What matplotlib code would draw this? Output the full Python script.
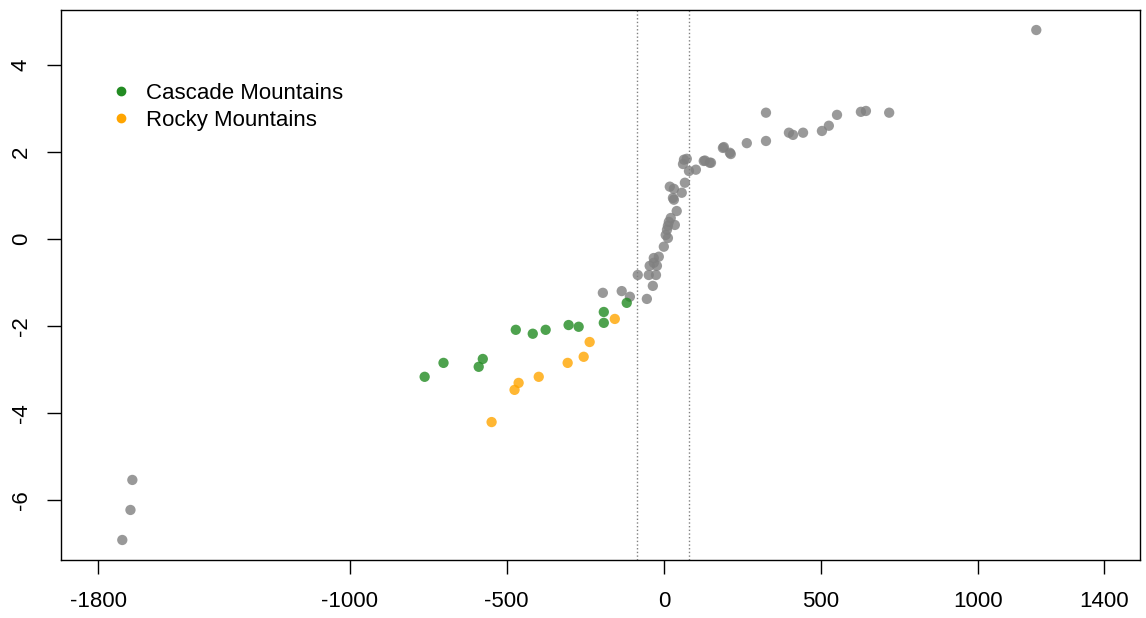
import numpy as np
import matplotlib.pyplot as plt
from matplotlib.lines import Line2D

plt.rcParams['font.family'] = ['Liberation Sans', 'DejaVu Sans']
plt.rcParams['axes.unicode_minus'] = False

# gray points (all others)
gray_x = [1185, -1723, -1697, -1691,
          325, 325, 717, 627, 643, 551, 525, 503, 443, 411, 398, 264, 210, 188, 146, 127,
          191, 213, 131, 150, 64, 73, 61, 80, 102, 67, 19, 32, 57, 29, 32, 41, 22, 16,
          35, 13, 10, 6, 13, 0, -16, -32, -32, -45, -22, -48, -25, -83, -35, -54,
          -134, -108, -194]
gray_y = [4.80, -6.92, -6.23, -5.54,
          2.90, 2.25, 2.90, 2.92, 2.94, 2.85, 2.60, 2.48, 2.44, 2.39, 2.44, 2.20, 1.98, 2.09, 1.75, 1.79,
          2.11, 1.95, 1.80, 1.75, 1.82, 1.84, 1.72, 1.56, 1.59, 1.29, 1.20, 1.15, 1.06, 0.94, 0.90, 0.64, 0.48, 0.39,
          0.32, 0.30, 0.21, 0.09, 0.02, -0.18, -0.41, -0.44, -0.55, -0.62, -0.62, -0.83, -0.83, -0.83, -1.08, -1.38,
          -1.20, -1.33, -1.24]

# Cascade Mountains
casc_x = [-761, -701, -589, -576, -471, -417, -376, -303, -271, -191, -191, -118]
casc_y = [-3.17, -2.85, -2.94, -2.76, -2.09, -2.18, -2.09, -1.98, -2.02, -1.68, -1.93, -1.47]

# Rocky Mountains
rocky_x = [-548, -475, -462, -398, -306, -255, -236, -156]
rocky_y = [-4.21, -3.47, -3.31, -3.17, -2.85, -2.71, -2.37, -1.84]

vlines = [-85, 80]
xticks = [-1800, -1000, -500, 0, 500, 1000, 1400]
yticks = [-6, -4, -2, 0, 2, 4]

fig = plt.figure(figsize=(11.46, 6.18), dpi=100)
ax = fig.add_axes([61/1146, 58/618, 1079/1146, 550/618])

ax.scatter(gray_x, gray_y, s=55, c='#808080', alpha=0.8, edgecolors='none', zorder=3)
ax.scatter(casc_x, casc_y, s=55, c='#228B22', alpha=0.8, edgecolors='none', zorder=3)
ax.scatter(rocky_x, rocky_y, s=55, c='#FFA500', alpha=0.8, edgecolors='none', zorder=3)

for v in vlines:
    ax.axvline(v, color='#808080', ls=':', lw=1, zorder=1)

ax.set_xlim(-1918, 1515)
ax.set_ylim(-7.38, 5.26)
ax.set_xticks(xticks)
ax.set_yticks(yticks)
ax.tick_params(labelsize=16, length=10, width=1)
ax.tick_params(axis='x', pad=12)
ax.tick_params(axis='y', pad=11)
for lab in ax.get_yticklabels():
    lab.set_rotation(90)
    lab.set_va('center')
for s in ax.spines.values():
    s.set_linewidth(1)

handles = [Line2D([], [], marker='o', ls='', color='#228B22', markersize=6),
           Line2D([], [], marker='o', ls='', color='#FFA500', markersize=6)]
ax.legend(handles, ['Cascade Mountains', 'Rocky Mountains'], loc='upper left',
          bbox_to_anchor=(0.0455, 0.868), frameon=False, fontsize=16,
          handletextpad=0.6, labelspacing=0.28, handlelength=1.0,
          borderpad=0, borderaxespad=0)

fig.savefig('out.png', dpi=100)
